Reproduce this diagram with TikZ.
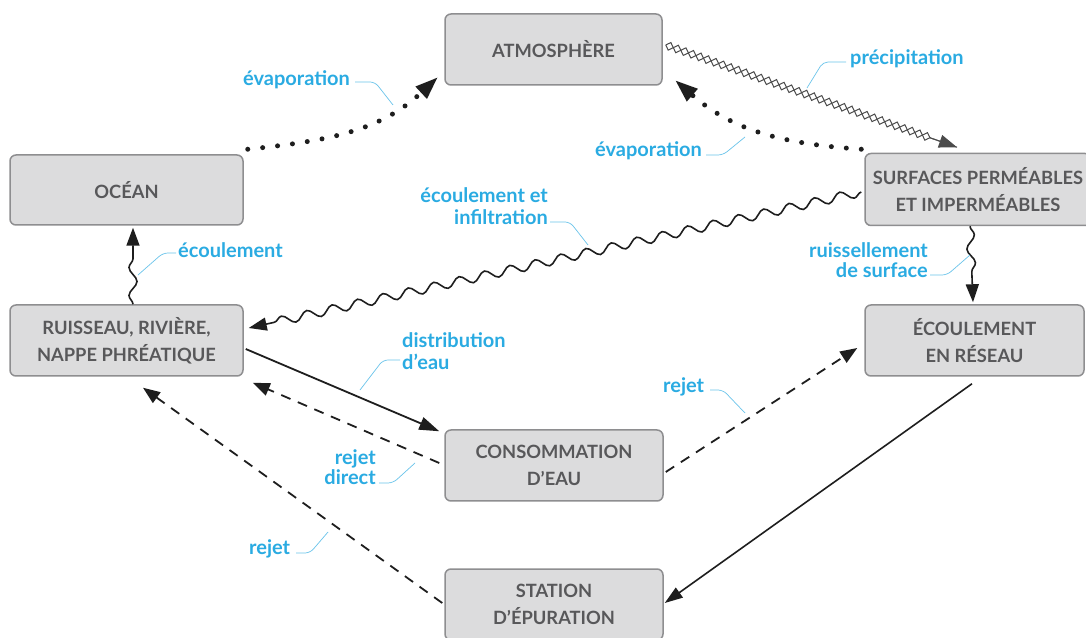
\documentclass[tikz,border=0pt]{standalone}
\usepackage{fontspec}
\setmainfont{Lato}
\usetikzlibrary{arrows.meta,decorations.pathmorphing,calc}
\definecolor{boxfill}{HTML}{DCDCDD}
\definecolor{boxline}{HTML}{8E8E90}
\definecolor{boxtext}{HTML}{58585A}
\definecolor{lblcyan}{HTML}{2AABE2}
\definecolor{ink}{HTML}{1E1E1E}
\begin{document}
\begin{tikzpicture}[x=1pt,y=1pt,
  box/.style={draw=boxline, line width=1.5pt, fill=boxfill, rounded corners=6pt, align=center, text=boxtext, font=\bfseries\fontsize{18.3}{27}\selectfont, inner sep=0pt},
  lbl/.style={text=lblcyan, font=\bfseries\fontsize{20}{22}\selectfont, inner sep=0pt},
  leader/.style={draw=lblcyan!70, line width=0.7pt, rounded corners=5pt},
  solidarrow/.style={draw=ink, line width=1.8pt, -{Triangle[length=20pt,width=13pt]}},
  dashedarrow/.style={draw=ink, line width=1.8pt, dash pattern=on 10pt off 8pt, -{Triangle[length=17pt,width=13pt]}},
  dotarrow/.style={draw=ink, line width=5pt, line cap=round, dash pattern=on 0pt off 15pt, -{Triangle[length=22pt,width=17pt,line width=0pt]}},
  wavy/.style={draw=ink, line width=1.6pt, decorate, decoration={snake, segment length=26pt, amplitude=4.5pt, post length=24pt}, -{Triangle[length=18pt,width=13pt]}},
  rope/.style={draw=ink!80, line width=1pt, decorate, decoration={zigzag, segment length=16pt, amplitude=4pt, post length=22pt}},
]
\useasboundingbox (0,0) rectangle (1086,637);
\fill[white] (0,0) rectangle (1086,637);

% boxes
\node[box, minimum width=217pt, minimum height=71pt] (atm) at (553.5,587.5) {ATMOSPHÈRE};
\node[box, minimum width=233pt, minimum height=70pt] (ocean) at (126.5,447) {OCÉAN};
\node[box, minimum width=226pt, minimum height=72pt] (surf) at (978,447.5) {SURFACES PERMÉABLES\\ET IMPERMÉABLES};
\node[box, minimum width=219pt, minimum height=71pt] (reseau) at (974.5,296.5) {ÉCOULEMENT\\EN RÉSEAU};
\node[box, minimum width=233pt, minimum height=71pt] (ruis) at (126.5,296.5) {RUISSEAU, RIVIÈRE,\\NAPPE PHRÉATIQUE};
\node[box, minimum width=218pt, minimum height=71pt] (conso) at (554,171.5) {CONSOMMATION\\D’EAU};
\node[box, minimum width=218pt, minimum height=71pt] (station) at (554,32.5) {STATION\\D’ÉPURATION};

% connectors
\draw[dotarrow] ($(ocean.north east)+(4,5)$) to[out=6,in=223] ($(atm.south west)+(-7,8)$);
\draw[dotarrow] ($(surf.north west)+(-3,3.5)$) to[out=176,in=319] ($(atm.south east)+(13,5)$);
\draw[rope] ($(atm.east)+(3,4.5)$) -- ($(surf.north)+(-21,5.5)$);
\draw[rope, decoration={mirror}, -{Triangle[length=18pt,width=13pt]}] ($(atm.east)+(3,4.5)$) -- ($(surf.north)+(-21,5.5)$);
\draw[wavy] ($(surf.west)+(-3,-2.5)$) -- ($(ruis.east)+(5,12.5)$);
\draw[wavy, decoration={segment length=28pt, amplitude=4pt, post length=22pt}] ($(ruis.north)+(6.5,0)$) -- ($(ocean.south)+(6.5,-2)$);
\draw[wavy, decoration={segment length=28pt, amplitude=4pt, post length=22pt}] ($(surf.south)+(-8,0)$) -- ($(reseau.north)+(-1.5,2)$);
\draw[solidarrow] ($(ruis.east)+(2,-8.5)$) -- ($(conso.north west)+(-5,-2)$);
\draw[dashedarrow] ($(conso.west)+(-5,2.5)$) -- ($(ruis.south east)+(9,-6)$);
\draw[dashedarrow] ($(conso.east)+(2,-6.5)$) -- ($(reseau.west)+(-7,-7.5)$);
\draw[dashedarrow] ($(station.west)+(-2,1.5)$) -- ($(ruis.south)+(16.5,-11)$);
\draw[solidarrow, line width=1.6pt, -{Triangle[length=18pt,width=12pt]}] ($(reseau.south)+(-2.5,-7)$) -- ($(station.east)+(1,1.5)$);

% labels
\node[lbl, anchor=base west] (l1) at (243,551) {évaporation};
\draw[leader] (355,555) -- (375,555) -- (393,532);
\node[lbl, anchor=base west] (l2) at (850,572) {précipitation};
\draw[leader] (846,575) -- (823,575) -- (807,549);
\node[lbl, anchor=base west] (l3) at (595,480) {évaporation};
\draw[leader] (706,482) -- (723,482) -- (745,500);
\node[lbl, anchor=base east] (l4a) at (548,434) {écoulement et};
\node[lbl, anchor=base east] (l4b) at (548,412) {infiltration};
\draw[leader] (550,415) -- (570,415) -- (588,392);
\node[lbl, anchor=base west] (l5) at (178,379) {écoulement};
\draw[leader] (176,384) -- (163,384) -- (138,362);
\node[lbl, anchor=base east] (l6a) at (928,379) {ruissellement};
\node[lbl, anchor=base east] (l6b) at (928,359) {de surface};
\draw[leader] (930,362) -- (947,362) -- (970,382);
\node[lbl, anchor=base west] (l7a) at (402,289) {distribution};
\node[lbl, anchor=base west] (l7b) at (402,267) {d’eau};
\draw[leader] (400,277) -- (383,277) -- (360,247);
\node[lbl, anchor=base east] (l8a) at (376,172) {rejet};
\node[lbl, anchor=base east] (l8b) at (376,152) {direct};
\draw[leader] (379,154) -- (393,154) -- (415,174);
\node[lbl, anchor=base west] (l9) at (663,244) {rejet};
\draw[leader] (710,247) -- (723,247) -- (745,224);
\node[lbl, anchor=base west] (l10) at (249,82) {rejet};
\draw[leader] (296,84) -- (310,84) -- (328,105);
\end{tikzpicture}
\end{document}
